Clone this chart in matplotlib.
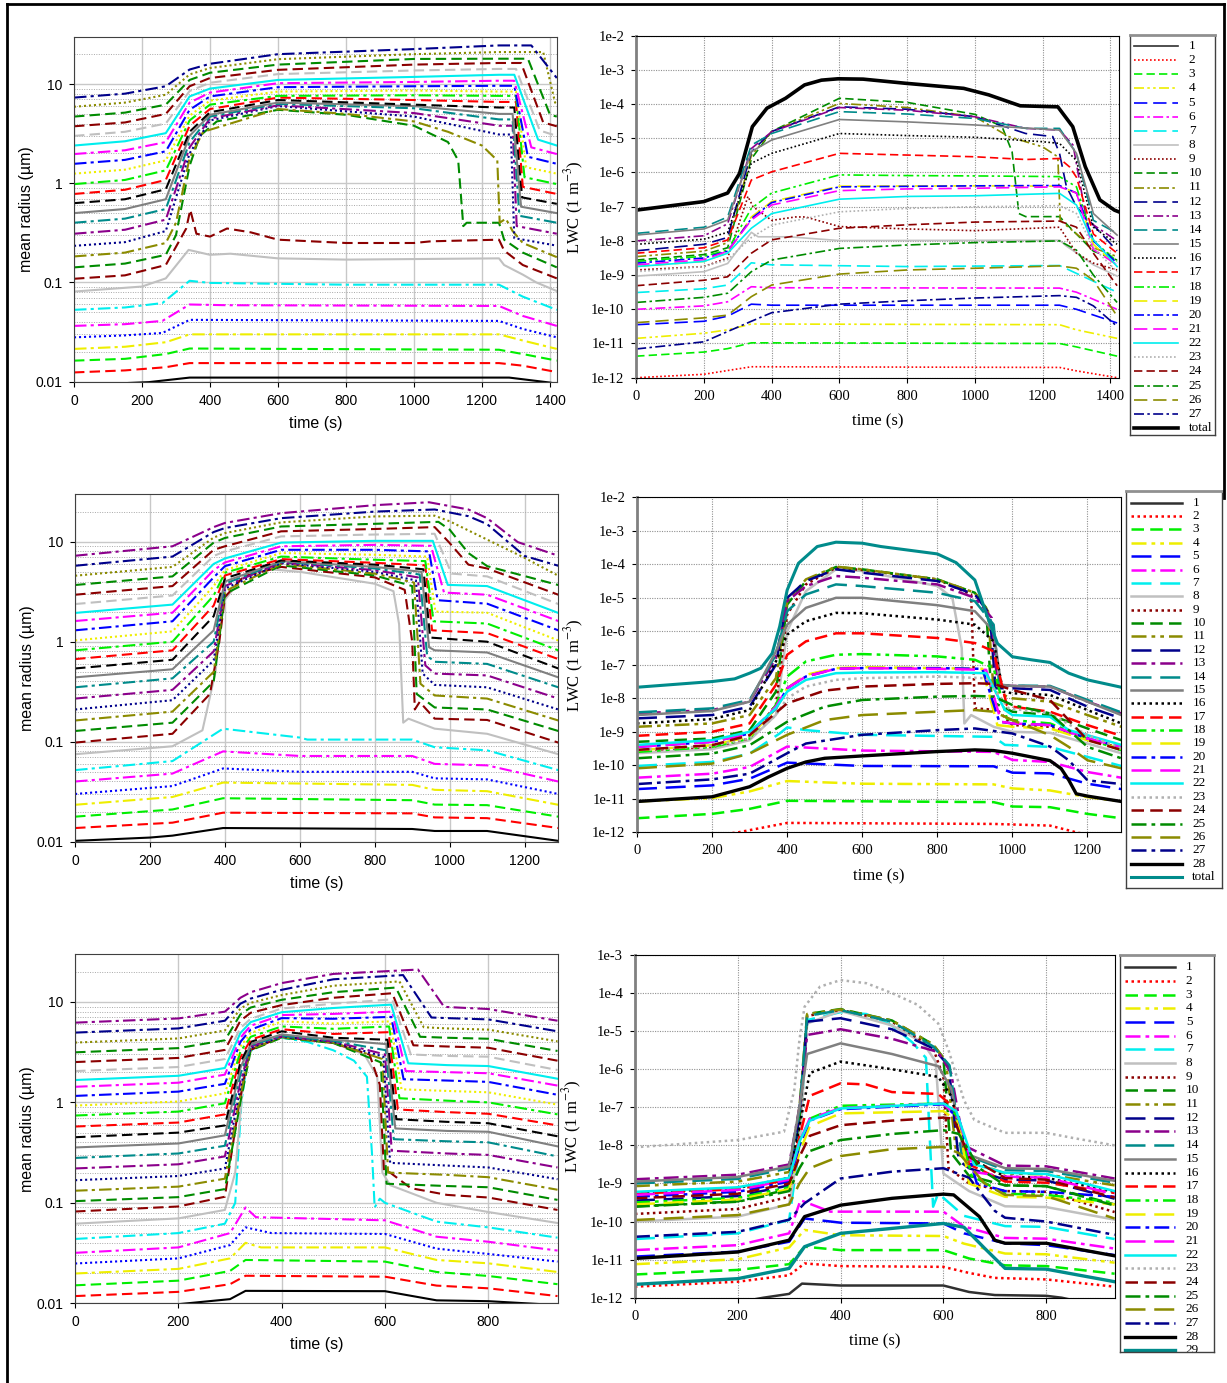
import numpy as np
import matplotlib.pyplot as plt
from matplotlib.lines import Line2D

plt.rcParams['mathtext.fontset'] = 'stix'

SANS = 'Liberation Sans'
SERIF = 'Liberation Serif'
W, H = 1227, 1383

# line patterns
SOLID = '-'
DASH = (0, (5, 2.5))
LONG = (0, (8, 3.5))
DOT = (0, (1, 1.4))
DDOT = (0, (6, 2, 1.5, 2))
D3 = (0, (6, 2, 1.5, 2, 1.5, 2))

# colours per size bin (left: mean radius panels)
rad_colors = ['#000000', '#ff0000', '#00ee00', '#eeee00', '#0000ff', '#ff00ff', '#00eeee', '#c0c0c0',
              '#8b0000', '#008b00', '#8b8b00', '#00008b', '#8b008b', '#008b8b', '#808080', '#000000',
              '#ff0000', '#00ee00', '#eeee00', '#0000ff', '#ff00ff', '#00eeee', '#c0c0c0', '#8b0000',
              '#008b00', '#8b8b00', '#00008b', '#8b008b']
rad_styles = [SOLID, DASH, DASH, DDOT, DOT, DDOT, DDOT, SOLID, DASH, DASH, DDOT, DOT, DDOT, DDOT,
              SOLID, DASH, DASH, DDOT, DOT, DDOT, DDOT, SOLID, DASH, DASH, DASH, DOT, DDOT, DDOT]

# colours per bin (right: LWC panels), 28 = black, 29 = teal
lwc_colors = ['#303030', '#ff0000', '#00ee00', '#eeee00', '#0000ff', '#ff00ff', '#00eeee', '#c0c0c0',
              '#8b0000', '#008b00', '#8b8b00', '#00008b', '#8b008b', '#008b8b', '#808080', '#000000',
              '#ff0000', '#00ee00', '#eeee00', '#0000ff', '#ff00ff', '#00eeee', '#b0b0b0', '#8b0000',
              '#008b00', '#8b8b00', '#00008b', '#000000', '#008b8b']
lwc_styles = [SOLID, DOT, DASH, D3, LONG, DDOT, LONG, SOLID, DOT, DASH, D3, LONG, DDOT, LONG,
              SOLID, DOT, DASH, D3, LONG, DDOT, LONG, SOLID, DOT, DASH, DDOT, LONG, DDOT, SOLID, SOLID]

# ------------------------------------------------------------------
# top row: mean radius (um), bins 1-27, (time s, radius um)
rad1 = [
    [(0, .0092), (220, .0099), (340, .0110), (1280, .0110), (1400, .0098), (1420, .0095)],
    [(0, .0124), (150, .013), (270, .014), (340, .0154), (1250, .0154), (1320, .0145), (1420, .0125)],
    [(0, .0163), (150, .017), (270, .019), (340, .0216), (1250, .021), (1320, .019), (1420, .0163)],
    [(0, .0214), (150, .0225), (270, .025), (340, .030), (1250, .030), (1320, .026), (1420, .0214)],
    [(0, .028), (150, .0293), (260, .031), (340, .042), (1250, .041), (1320, .034), (1420, .028)],
    [(0, .0365), (150, .038), (260, .041), (340, .060), (450, .059), (1250, .058), (1320, .046), (1420, .0365)],
    [(0, .053), (150, .056), (260, .062), (340, .104), (400, .099), (800, .095), (1250, .095), (1320, .072), (1420, .053)],
    [(0, .081), (200, .091), (270, .11), (337, .213), (400, .19), (460, .195), (600, .175), (800, .17),
     (1250, .175), (1265, .15), (1320, .12), (1360, .10), (1420, .082)],
    [(0, .109), (150, .118), (270, .15), (330, .35), (342, .54), (360, .31), (400, .29), (450, .35), (520, .32),
     (600, .27), (800, .25), (1000, .25), (1050, .26), (1250, .27), (1265, .21), (1320, .15), (1420, .11)],
    [(0, .142), (150, .155), (270, .19), (300, .3), (340, 1.5), (370, 3.0), (420, 4.2), (600, 5.5), (800, 4.9),
     (1000, 3.8), (1100, 2.6), (1130, 1.7), (1145, .37), (1155, .4), (1250, .4), (1265, .27), (1320, .2),
     (1420, .142)],
    [(0, .183), (150, .2), (270, .25), (300, .4), (340, 1.8), (380, 3.3), (600, 5.6), (800, 5.0), (1000, 4.2),
     (1100, 3.3), (1200, 2.4), (1245, 1.7), (1252, .4), (1270, .44), (1290, .33), (1320, .25), (1420, .18)],
    [(0, .234), (150, .255), (270, .33), (340, 2.0), (400, 4.3), (600, 6.0), (1000, 4.7), (1250, 3.1), (1285, 3.1), (1295, .28), (1420, .235)],
    [(0, .31), (150, .34), (270, .43), (340, 2.3), (400, 4.5), (600, 6.1), (1000, 5.1), (1250, 3.8), (1290, 3.8), (1302, .37), (1420, .31)],
    [(0, .40), (150, .44), (270, .55), (340, 2.6), (400, 4.7), (600, 6.3), (1000, 5.7), (1250, 4.4), (1290, 4.4), (1310, .47), (1420, .40)],
    [(0, .50), (150, .55), (270, .69), (340, 3.0), (400, 4.9), (600, 6.5), (1000, 6.0), (1250, 5.0), (1290, 5.0), (1315, .58), (1420, .50)],
    [(0, .63), (150, .69), (270, .87), (340, 3.3), (400, 5.2), (600, 6.9), (1000, 6.2), (1250, 5.8), (1295, 5.8), (1318, .72), (1420, .62)],
    [(0, .78), (150, .86), (270, 1.08), (340, 3.8), (400, 5.6), (600, 7.3), (1000, 6.9), (1250, 6.6), (1300, 6.6), (1320, .92), (1420, .78)],
    [(0, .98), (150, 1.08), (270, 1.35), (340, 4.3), (400, 6.2), (600, 7.6), (1000, 7.7), (1250, 7.6), (1300, 7.6), (1325, 1.15), (1420, .98)],
    [(0, 1.25), (150, 1.37), (270, 1.7), (340, 4.8), (400, 6.8), (600, 8.4), (1000, 8.6), (1250, 8.4), (1300, 8.4), (1330, 1.45), (1420, 1.25)],
    [(0, 1.57), (150, 1.72), (270, 2.1), (340, 5.5), (400, 7.5), (600, 9.3), (1000, 9.5), (1250, 9.6), (1295, 9.6), (1335, 1.85), (1420, 1.57)],
    [(0, 1.97), (150, 2.15), (270, 2.6), (340, 6.5), (400, 8.2), (600, 10.2), (1000, 10.5), (1250, 10.8), (1295, 10.8), (1345, 2.3), (1420, 1.97)],
    [(0, 2.4), (150, 2.65), (270, 3.2), (340, 7.5), (400, 9.0), (600, 11.0), (1000, 11.8), (1250, 12.4), (1295, 12.4), (1365, 2.75), (1420, 2.4)],
    [(0, 3.0), (150, 3.3), (270, 4.0), (340, 8.5), (400, 10.3), (600, 12.6), (1000, 13.7), (1250, 14.2), (1300, 14.2), (1370, 3.4), (1420, 3.0)],
    [(0, 3.75), (150, 4.1), (270, 5.0), (340, 9.5), (400, 11.5), (600, 13.9), (1000, 15.7), (1250, 16.3), (1315, 16.3), (1380, 4.1), (1420, 3.75)],
    [(0, 4.7), (150, 5.15), (270, 6.2), (340, 11), (400, 13), (600, 15.7), (1000, 17.9), (1250, 18), (1335, 18), (1400, 4.9), (1420, 4.7)],
    [(0, 5.9), (150, 6.5), (270, 7.8), (340, 12.5), (400, 14.5), (600, 17.8), (1000, 20), (1250, 21), (1380, 21), (1415, 6.5), (1420, 6.3)],
    [(0, 7.3), (150, 8.0), (270, 9.5), (340, 14), (400, 16), (600, 20), (1000, 22.5), (1250, 24.5), (1345, 24.5), (1420, 11.5)],
]

# top row: LWC, log10 values, bins 1-27 + total
lwc1 = [
    [(0, -13.3), (340, -12.9), (1250, -12.9), (1420, -13.3)],
    [(0, -12.0), (200, -11.9), (340, -11.68), (1250, -11.7), (1300, -11.8), (1420, -12.0)],
    [(0, -11.37), (200, -11.25), (270, -11.15), (340, -10.98), (1250, -11.0), (1300, -11.1), (1420, -11.37)],
    [(0, -10.85), (200, -10.7), (270, -10.6), (340, -10.43), (1250, -10.45), (1300, -10.6), (1420, -10.85)],
    [(0, -10.45), (200, -10.35), (270, -10.2), (340, -9.85), (400, -9.88), (1250, -9.88), (1300, -10.0), (1420, -10.4)],
    [(0, -10.0), (200, -9.9), (270, -9.78), (340, -9.34), (400, -9.37), (1250, -9.38), (1300, -9.5), (1420, -10.0)],
    [(0, -9.51), (200, -9.4), (270, -9.29), (340, -8.64), (400, -8.7), (800, -8.75), (1250, -8.72), (1300, -8.95), (1420, -9.5)],
    [(0, -9.03), (200, -8.9), (270, -8.66), (340, -7.75), (360, -7.88), (450, -7.88), (600, -7.99), (1250, -7.98),
     (1270, -8.15), (1300, -8.35), (1350, -8.7), (1420, -9.03)],
    [(0, -8.85), (200, -8.75), (270, -8.5), (330, -6.7), (345, -7.0), (400, -7.4), (470, -7.3), (500, -7.3),
     (600, -7.58), (800, -7.65), (1000, -7.7), (1250, -7.6), (1300, -8.36), (1350, -8.65), (1420, -8.85)],
    [(0, -8.56), (200, -8.4), (270, -8.2), (340, -5.6), (400, -4.8), (600, -3.83), (800, -3.95), (1000, -4.3),
     (1080, -4.65), (1110, -5.4), (1130, -7.2), (1150, -7.29), (1250, -7.29), (1270, -7.5), (1350, -8.3), (1420, -8.56)],
    [(0, -8.46), (200, -8.3), (270, -8.05), (340, -5.5), (400, -4.8), (600, -3.98), (800, -4.1), (1000, -4.37),
     (1100, -4.95), (1200, -5.25), (1245, -5.54), (1252, -7.39), (1270, -7.55), (1350, -8.2), (1420, -8.46)],
    [(0, -8.29), (200, -8.1), (270, -7.9), (340, -5.4), (400, -4.8), (600, -4.08), (800, -4.15), (1000, -4.37),
     (1150, -4.86), (1230, -4.95), (1250, -5.44), (1270, -6.4), (1300, -7.0), (1420, -8.29)],
    [(0, -8.0), (200, -7.85), (270, -7.5), (340, -5.3), (400, -4.81), (600, -4.1), (800, -4.18), (1000, -4.37),
     (1150, -4.71), (1250, -4.76), (1290, -5.2), (1330, -7.4), (1420, -8.0)],
    [(0, -7.78), (200, -7.6), (270, -7.3), (340, -5.2), (400, -4.86), (600, -4.22), (800, -4.29), (1000, -4.42),
     (1150, -4.71), (1250, -4.71), (1300, -5.44), (1350, -7.4), (1420, -7.78)],
    [(0, -7.83), (200, -7.65), (270, -7.39), (340, -5.39), (400, -5.05), (600, -4.45), (800, -4.52), (1000, -4.61),
     (1250, -4.76), (1300, -5.44), (1350, -7.2), (1420, -7.83)],
    [(0, -8.1), (200, -7.95), (270, -7.75), (340, -5.73), (400, -5.44), (600, -4.86), (800, -4.92), (1000, -4.97),
     (1200, -5.1), (1250, -5.15), (1300, -5.65), (1350, -7.6), (1420, -8.1)],
    [(0, -8.36), (200, -8.2), (270, -7.97), (340, -6.22), (400, -5.98), (600, -5.44), (800, -5.49), (1000, -5.54),
     (1150, -5.62), (1250, -5.59), (1280, -5.84), (1300, -6.14), (1350, -7.8), (1420, -8.36)],
    [(0, -8.6), (200, -8.45), (270, -8.27), (340, -7.05), (400, -6.6), (600, -6.07), (800, -6.09), (1000, -6.1),
     (1250, -6.12), (1300, -6.42), (1350, -8.0), (1420, -8.6)],
    [(0, -8.75), (200, -8.6), (270, -8.35), (340, -7.3), (400, -6.85), (600, -6.4), (1000, -6.39), (1250, -6.4),
     (1300, -6.6), (1350, -8.1), (1420, -8.75)],
    [(0, -8.65), (200, -8.5), (270, -8.3), (340, -7.35), (400, -6.88), (600, -6.42), (1000, -6.39), (1250, -6.38),
     (1300, -6.6), (1350, -8.0), (1420, -8.65)],
    [(0, -8.7), (200, -8.55), (270, -8.3), (340, -7.39), (400, -6.95), (600, -6.53), (800, -6.48), (1000, -6.46),
     (1250, -6.42), (1300, -6.6), (1350, -8.25), (1420, -8.7)],
    [(0, -8.75), (200, -8.6), (270, -8.36), (340, -7.63), (400, -7.2), (600, -6.78), (800, -6.7), (1000, -6.68),
     (1250, -6.61), (1300, -6.95), (1340, -7.85), (1420, -8.75)],
    [(0, -8.9), (200, -8.75), (270, -8.55), (340, -7.9), (400, -7.54), (600, -7.15), (800, -7.05), (1000, -7.0),
     (1250, -6.97), (1300, -7.2), (1350, -8.2), (1420, -8.9)],
    [(0, -9.31), (200, -9.15), (270, -9.05), (340, -8.36), (400, -7.97), (600, -7.63), (800, -7.53), (1000, -7.45),
     (1250, -7.42), (1300, -7.6), (1350, -8.36), (1420, -9.31)],
    [(0, -9.8), (200, -9.65), (270, -9.53), (340, -8.9), (400, -8.56), (600, -8.22), (800, -8.12), (1000, -8.05),
     (1250, -8.0), (1300, -8.27), (1350, -9.0), (1420, -9.8)],
    [(0, -10.39), (200, -10.25), (270, -10.17), (340, -9.63), (400, -9.29), (600, -8.97), (800, -8.85), (1000, -8.8),
     (1250, -8.73), (1300, -8.8), (1350, -9.15), (1420, -10.2)],
    [(0, -11.16), (200, -10.95), (270, -10.65), (340, -10.35), (400, -10.1), (600, -9.85), (800, -9.75), (1000, -9.67),
     (1250, -9.6), (1300, -9.65), (1350, -9.9), (1420, -10.5)],
]
lwc1_total = [(0, -7.1), (200, -6.85), (270, -6.6), (305, -6.03), (343, -4.66), (386, -4.12), (441, -3.83),
              (497, -3.44), (547, -3.3), (596, -3.26), (670, -3.27), (794, -3.39), (967, -3.54), (1041, -3.73),
              (1134, -4.05), (1245, -4.08), (1289, -4.66), (1326, -5.83), (1369, -6.8), (1412, -7.1), (1425, -7.15)]

# ------------------------------------------------------------------
# middle row: mean radius, bins 1-28
rad2 = [
    [(0, .0102), (200, .011), (260, .0115), (395, .0137), (900, .0134), (960, .0128), (1100, .0128), (1290, .0102)],
    [(0, .0137), (260, .0155), (395, .0195), (900, .0192), (960, .0175), (1100, .0172), (1290, .0137)],
    [(0, .0178), (260, .021), (395, .0272), (900, .026), (960, .0235), (1100, .0232), (1290, .0178)],
    [(0, .0234), (260, .028), (395, .039), (900, .037), (960, .033), (1100, .032), (1290, .0234)],
    [(0, .030), (260, .036), (395, .054), (600, .050), (900, .050), (960, .043), (1100, .042), (1290, .030)],
    [(0, .040), (260, .048), (395, .080), (600, .072), (900, .072), (960, .060), (1100, .058), (1290, .040)],
    [(0, .052), (260, .064), (395, .135), (600, .11), (620, .105), (900, .105), (960, .088), (1100, .082), (1290, .052)],
    [(0, .075), (260, .09), (340, .13), (375, .5), (395, 2.5), (450, 4.5), (520, 5.3), (600, 5.0), (800, 3.8),
     (850, 3.2), (865, 1.5), (876, .155), (890, .17), (960, .135), (1100, .12), (1290, .075)],
    [(0, .098), (260, .12), (360, .3), (385, 1.0), (400, 2.8), (450, 4.5), (550, 5.6), (800, 4.4), (880, 3.3),
     (900, 1.0), (907, .21), (920, .25), (960, .17), (1100, .165), (1290, .098)],
    [(0, .128), (260, .155), (370, .4), (400, 3.0), (550, 5.8), (800, 4.6), (900, 3.6), (912, .3), (960, .22), (1100, .21), (1290, .128)],
    [(0, .163), (260, .2), (370, .5), (400, 3.2), (550, 6.0), (800, 4.8), (905, 3.9), (922, .38), (960, .29), (1100, .27), (1290, .163)],
    [(0, .21), (260, .26), (370, .65), (400, 3.4), (550, 6.1), (800, 5.0), (910, 4.1), (928, .48), (960, .37), (1100, .35), (1290, .21)],
    [(0, .27), (260, .33), (370, .8), (400, 3.6), (550, 6.2), (800, 5.2), (915, 4.4), (935, .58), (960, .48), (1100, .46), (1290, .27)],
    [(0, .35), (260, .43), (370, 1.0), (400, 3.8), (550, 6.3), (800, 5.4), (920, 4.7), (940, .72), (960, .63), (1100, .6), (1290, .35)],
    [(0, .44), (260, .53), (370, 1.3), (400, 4.0), (550, 6.4), (800, 5.6), (925, 5.0), (945, .88), (960, .82), (1100, .78), (1290, .44)],
    [(0, .54), (260, .66), (370, 1.8), (400, 4.3), (550, 6.5), (800, 5.9), (930, 5.3), (948, 1.1), (1100, 1.0), (1290, .54)],
    [(0, .67), (260, .82), (370, 2.3), (400, 4.6), (550, 6.7), (800, 6.15), (935, 5.8), (953, 1.3), (1100, 1.22), (1290, .67)],
    [(0, .82), (260, 1.0), (370, 2.9), (400, 4.9), (550, 7.1), (800, 6.6), (935, 6.4), (957, 1.6), (1100, 1.52), (1290, .82)],
    [(0, 1.03), (260, 1.27), (370, 3.6), (400, 5.2), (550, 7.7), (800, 7.4), (940, 7.1), (962, 2.0), (1100, 1.95), (1290, 1.03)],
    [(0, 1.30), (260, 1.6), (370, 4.4), (400, 5.7), (550, 8.3), (800, 8.3), (945, 8.0), (968, 2.6), (1100, 2.4), (1290, 1.30)],
    [(0, 1.61), (260, 1.95), (370, 5.2), (400, 6.2), (550, 9.0), (800, 9.3), (950, 9.1), (985, 3.1), (1100, 2.95), (1290, 1.61)],
    [(0, 1.94), (260, 2.35), (370, 6.0), (400, 6.8), (550, 9.8), (800, 10.2), (955, 10.2), (995, 3.7), (1100, 3.6), (1290, 1.94)],
    [(0, 2.38), (260, 2.9), (370, 7.2), (400, 8.0), (550, 11.3), (800, 11.8), (960, 12), (1005, 4.8), (1100, 4.5), (1290, 2.38)],
    [(0, 2.95), (260, 3.6), (370, 8.3), (400, 9.0), (550, 12.7), (800, 13.4), (960, 14), (1000, 9.7), (1050, 5.9), (1100, 5.4), (1290, 2.95)],
    [(0, 3.69), (260, 4.5), (370, 9.8), (400, 10.9), (550, 14.2), (800, 15.1), (970, 15.8), (1000, 13.2), (1050, 7.7), (1100, 5.7), (1290, 3.69)],
    [(0, 4.57), (260, 5.6), (370, 11), (400, 12.2), (550, 15.6), (800, 17.9), (960, 18.2), (1000, 16), (1100, 10.5), (1200, 6.9), (1290, 4.57)],
    [(0, 5.75), (260, 7.1), (370, 12.5), (400, 13.7), (550, 17.2), (800, 20), (960, 21), (1050, 18), (1100, 15), (1200, 7.2), (1290, 5.75)],
    [(0, 7.24), (260, 9.0), (370, 14), (400, 15.4), (550, 19.3), (800, 23.2), (945, 24.8), (1050, 21), (1100, 17.2), (1182, 9.9), (1290, 7.24)],
]

# middle row: LWC (log10), bins 1-28 + total
lwc2 = [
    [(0, -13.5), (400, -13.0), (1290, -13.5)],
    [(0, -12.4), (270, -12.0), (400, -11.72), (950, -11.75), (1100, -11.8), (1170, -12.0), (1290, -12.3)],
    [(0, -11.58), (200, -11.45), (300, -11.3), (400, -11.06), (950, -11.1), (1000, -11.23), (1100, -11.25), (1200, -11.45), (1290, -11.58)],
    [(0, -11.08), (200, -10.98), (300, -10.78), (400, -10.47), (600, -10.55), (950, -10.57), (1000, -10.69), (1100, -10.75), (1200, -10.95), (1290, -11.08)],
    [(0, -10.71), (200, -10.6), (300, -10.4), (400, -9.92), (600, -10.02), (950, -10.03), (1000, -10.22), (1100, -10.24), (1200, -10.55), (1290, -10.71)],
    [(0, -10.37), (200, -10.25), (300, -10.05), (400, -9.44), (600, -9.56), (950, -9.6), (1000, -9.84), (1100, -9.9), (1200, -10.2), (1290, -10.37)],
    [(0, -10.02), (200, -9.9), (300, -9.65), (380, -9.05), (400, -8.87), (450, -8.95), (600, -9.09), (950, -9.15), (980, -9.39), (1100, -9.45), (1200, -9.75), (1290, -10.02)],
    [(0, -9.64), (200, -9.52), (300, -9.25), (370, -8.5), (400, -6.0), (450, -4.8), (530, -4.15), (600, -4.2), (800, -4.65),
     (840, -5.0), (865, -6.5), (872, -8.75), (890, -8.5), (950, -8.85), (1000, -9.0), (1100, -9.03), (1200, -9.35), (1290, -9.64)],
    [(0, -9.56), (200, -9.45), (300, -9.2), (370, -8.2), (400, -5.5), (450, -4.6), (530, -4.1), (600, -4.17), (800, -4.45),
     (890, -4.9), (900, -8.3), (960, -8.35), (1000, -8.8), (1100, -8.85), (1200, -9.2), (1290, -9.5)],
    [(0, -9.3), (200, -9.2), (300, -8.95), (370, -7.8), (400, -5.2), (450, -4.5), (530, -4.08), (600, -4.15), (800, -4.45),
     (900, -4.85), (930, -5.3), (945, -8.1), (1000, -8.4), (1100, -8.5), (1200, -8.9), (1290, -9.25)],
    [(0, -8.85), (200, -8.75), (300, -8.5), (370, -7.4), (400, -5.1), (450, -4.45), (530, -4.07), (600, -4.15), (800, -4.45),
     (900, -4.85), (935, -5.4), (950, -7.8), (1000, -8.0), (1100, -8.1), (1200, -8.5), (1290, -8.85)],
    [(0, -8.6), (200, -8.5), (300, -8.25), (370, -7.0), (400, -5.0), (450, -4.5), (530, -4.15), (600, -4.25), (800, -4.5),
     (900, -4.9), (940, -5.5), (955, -7.7), (1000, -7.7), (1100, -7.75), (1200, -8.25), (1290, -8.6)],
    [(0, -8.45), (200, -8.35), (300, -8.1), (370, -6.8), (400, -5.1), (450, -4.65), (530, -4.35), (600, -4.4), (800, -4.6),
     (900, -5.0), (945, -5.6), (960, -7.6), (1000, -7.63), (1100, -7.65), (1200, -8.1), (1290, -8.45)],
    [(0, -8.42), (200, -8.3), (300, -8.05), (370, -6.7), (400, -5.4), (450, -4.9), (530, -4.6), (600, -4.65), (800, -4.85),
     (900, -5.1), (950, -5.8), (965, -7.6), (1000, -7.62), (1100, -7.63), (1200, -8.05), (1290, -8.42)],
    [(0, -8.5), (200, -8.38), (300, -8.1), (370, -6.6), (400, -5.8), (450, -5.3), (530, -5.0), (600, -5.0), (800, -5.22),
     (900, -5.4), (950, -6.0), (970, -7.6), (1000, -7.63), (1100, -7.65), (1200, -8.1), (1290, -8.5)],
    [(0, -8.75), (200, -8.62), (300, -8.35), (370, -6.9), (400, -6.1), (450, -5.7), (530, -5.45), (600, -5.46), (800, -5.65),
     (900, -5.8), (950, -6.3), (975, -7.8), (1000, -7.85), (1100, -7.9), (1200, -8.35), (1290, -8.75)],
    [(0, -9.12), (200, -9.0), (300, -8.75), (370, -7.6), (400, -6.7), (450, -6.3), (530, -6.06), (600, -6.06), (800, -6.2),
     (900, -6.35), (950, -6.6), (985, -8.2), (1000, -8.25), (1100, -8.4), (1200, -8.8), (1290, -9.12)],
    [(0, -9.6), (200, -9.45), (300, -9.2), (370, -8.2), (400, -7.35), (450, -6.9), (530, -6.7), (600, -6.68), (800, -6.75),
     (900, -6.85), (950, -7.1), (985, -8.6), (1000, -8.65), (1100, -8.75), (1200, -9.2), (1290, -9.55)],
    [(0, -9.55), (200, -9.4), (300, -9.15), (370, -8.3), (400, -7.7), (450, -7.3), (530, -7.1), (600, -7.07), (800, -7.1),
     (920, -7.12), (960, -8.8), (1000, -8.85), (1100, -8.9), (1200, -9.25), (1290, -9.5)],
    [(0, -9.45), (200, -9.3), (300, -9.05), (370, -8.3), (400, -7.7), (450, -7.35), (530, -7.12), (600, -7.1), (800, -7.1),
     (920, -7.12), (965, -8.7), (1000, -8.75), (1100, -8.8), (1200, -9.2), (1290, -9.45)],
    [(0, -9.45), (200, -9.3), (300, -9.05), (370, -8.25), (400, -7.7), (450, -7.35), (530, -7.12), (600, -7.1), (800, -7.12),
     (930, -7.15), (970, -8.7), (1000, -8.75), (1100, -8.8), (1200, -9.2), (1290, -9.45)],
    [(0, -9.39), (200, -9.25), (300, -9.0), (370, -8.3), (400, -7.8), (450, -7.45), (530, -7.25), (600, -7.23), (800, -7.22),
     (930, -7.25), (980, -8.35), (1000, -8.5), (1100, -8.55), (1150, -8.95), (1200, -9.1), (1290, -9.39)],
    [(0, -9.55), (200, -9.42), (300, -9.2), (370, -8.5), (400, -8.0), (450, -7.65), (530, -7.45), (600, -7.4), (800, -7.35),
     (930, -7.4), (990, -8.3), (1100, -8.45), (1200, -9.1), (1290, -9.5)],
    [(0, -9.54), (200, -9.4), (300, -9.1), (400, -8.15), (500, -7.77), (600, -7.65), (800, -7.57), (900, -7.55), (950, -7.57),
     (1000, -7.75), (1100, -8.05), (1150, -8.65), (1200, -9.25), (1290, -9.54)],
    [(0, -9.79), (200, -9.65), (300, -9.4), (400, -8.7), (500, -8.25), (600, -8.05), (800, -7.95), (900, -7.93), (950, -7.95),
     (1000, -8.2), (1100, -8.45), (1150, -8.95), (1200, -9.45), (1290, -9.79)],
    [(0, -10.09), (200, -9.95), (300, -9.65), (400, -9.09), (500, -8.65), (600, -8.5), (800, -8.4), (900, -8.35), (950, -8.4),
     (1000, -8.65), (1100, -9.1), (1150, -9.45), (1200, -9.85), (1290, -10.09)],
    [(0, -10.56), (200, -10.42), (300, -10.25), (400, -9.64), (450, -9.35), (600, -9.09), (800, -8.95), (900, -8.9),
     (1000, -9.05), (1100, -9.44), (1150, -9.85), (1200, -10.45), (1290, -10.56)],
    [(0, -11.08), (200, -10.94), (300, -10.64), (350, -10.35), (400, -10.09), (450, -9.9), (500, -9.79), (600, -9.72),
     (800, -9.59), (900, -9.54), (950, -9.56), (1000, -9.64), (1100, -9.86), (1130, -10.1), (1150, -10.44), (1170, -10.85),
     (1200, -10.92), (1290, -11.08)],
]
lwc2_total = [(0, -7.67), (200, -7.5), (260, -7.42), (300, -7.25), (330, -7.1), (360, -6.66), (380, -5.86), (400, -4.77),
              (430, -3.97), (480, -3.47), (530, -3.34), (600, -3.37), (650, -3.47), (800, -3.69), (850, -3.95), (900, -4.47),
              (930, -5.46), (960, -6.36), (1000, -6.76), (1050, -6.85), (1100, -6.93), (1150, -7.25), (1200, -7.45), (1290, -7.67)]

# ------------------------------------------------------------------
# bottom row: mean radius, bins 1-9 as (time, radius)
rad3_small = [
    [(0, .009), (200, .0098), (300, .011), (330, .0133), (600, .0132), (700, .0107), (800, .0105), (934, .0096)],
    [(0, .0118), (200, .013), (300, .0155), (330, .0188), (600, .0184), (700, .015), (800, .0141), (934, .0118)],
    [(0, .0151), (200, .0168), (300, .021), (330, .027), (600, .026), (700, .0205), (800, .0187), (934, .0155)],
    [(0, .0198), (200, .022), (300, .028), (330, .040), (360, .036), (600, .036), (700, .027), (800, .025), (934, .0205)],
    [(0, .0249), (200, .028), (300, .038), (330, .057), (380, .05), (600, .049), (700, .035), (800, .031), (934, .026)],
    [(0, .0318), (200, .036), (300, .05), (330, .09), (350, .072), (600, .067), (700, .046), (800, .041), (934, .0335)],
    [(0, .0437), (200, .05), (290, .062), (310, .1), (322, 1.0), (335, 3.0), (360, 4.2), (400, 4.4), (450, 4.0), (500, 3.3),
     (540, 2.6), (565, 1.8), (575, .3), (580, .09), (590, .11), (600, .1), (700, .065), (800, .057), (934, .045)],
    [(0, .062), (200, .07), (290, .085), (310, .2), (330, 3.0), (360, 4.3), (400, 4.5), (500, 3.9), (560, 3.0), (585, 1.8),
     (595, .2), (610, .15), (700, .1), (800, .081), (934, .063)],
    [(0, .082), (200, .092), (290, .115), (318, 1.0), (338, 3.3), (400, 4.5), (500, 3.9), (570, 3.0), (590, 1.5), (598, .21),
     (610, .2), (650, .14), (720, .12), (800, .113), (934, .085)],
]
# bins 10-28: radius at fixed times, plus each bin's own fall-off (start, end)
rad3_times = [0, 200, 290, 320, 340, 400, 500]
rad3_rise = [
    [.104, .114, .137, 1.0, 3.3, 4.4, 3.9],
    [.132, .145, .174, 1.2, 3.4, 4.45, 3.95],
    [.168, .185, .22, 1.4, 3.5, 4.5, 4.0],
    [.22, .242, .29, 1.6, 3.6, 4.55, 4.05],
    [.28, .31, .37, 1.9, 3.7, 4.6, 4.1],
    [.356, .39, .47, 2.2, 3.8, 4.75, 4.2],
    [.45, .50, .59, 2.5, 4.0, 5.1, 4.4],
    [.575, .63, .76, 2.8, 4.2, 5.35, 4.8],
    [.74, .81, .98, 3.2, 4.5, 5.7, 5.4],
    [.93, 1.02, 1.23, 3.6, 4.9, 6.4, 6.1],
    [1.16, 1.28, 1.53, 4.0, 5.3, 6.9, 6.8],
    [1.43, 1.57, 1.89, 4.4, 5.8, 7.4, 7.6],
    [1.67, 1.84, 2.2, 4.9, 6.3, 7.9, 8.7],
    [2.05, 2.25, 2.7, 5.5, 6.8, 8.6, 9.6],
    [2.52, 2.77, 3.33, 6.5, 7.8, 9.3, 11],
    [3.15, 3.47, 4.15, 7.5, 8.8, 10.5, 12.5],
    [3.94, 4.33, 5.2, 8.6, 9.8, 11.7, 14.5],
    [4.95, 5.45, 6.5, 9.6, 10.8, 13.2, 16.8],
    [6.22, 6.85, 8.0, 11, 12.5, 15.4, 19],
]
rad3_fall_start = [592, 595, 597, 600, 602, 603, 605, 607, 608, 610, 612, 614, 612, 614, 614, 621, 628, 635, 664]
rad3_peak = [2.5, 2.7, 2.85, 3.0, 3.3, 3.8, 4.2, 5.0, 5.7, 6.4, 7.1, 8.0, 9.4, 10.6, 12.2, 13.9, 16, 18.5, 21]
rad3_fall_end = [603, 606, 610, 613, 617, 620, 622, 625, 628, 632, 636, 640, 645, 650, 655, 668, 675, 690, 714]
rad3_after = [.155, .2, .25, .33, .43, .55, .68, .85, 1.1, 1.35, 1.7, 2.05, 2.45, 3.0, 3.7, 4.5, 5.6, 7.0, 9.0]
rad3_t720 = [.147, .19, .235, .31, .41, .52, .64, .8, 1.04, 1.3, 1.65, 2.0, 2.35, 2.9, 3.6, 4.4, 5.45, 6.9, 8.9]
rad3_t800 = [.143, .18, .225, .30, .40, .51, .62, .77, 1.0, 1.26, 1.6, 1.95, 2.3, 2.85, 3.5, 4.3, 5.3, 6.7, 8.5]
rad3_end = [.107, .135, .172, .225, .29, .365, .46, .59, .76, .95, 1.19, 1.47, 1.72, 2.1, 2.6, 3.25, 4.05, 5.1, 6.5]

# bottom row: LWC (log10), bins 1-29
lwc3 = [
    [(0, -12.6), (250, -12.0), (300, -11.9), (325, -11.63), (400, -11.68), (600, -11.68), (650, -11.85), (700, -11.93),
     (800, -11.95), (830, -12.0), (933, -12.3)],
    [(0, -11.71), (200, -11.58), (300, -11.41), (330, -11.1), (400, -11.17), (600, -11.19), (650, -11.35), (700, -11.48), (800, -11.52), (933, -11.71)],
    [(0, -11.39), (200, -11.27), (300, -11.12), (330, -10.66), (400, -10.75), (600, -10.75), (650, -10.97), (720, -11.15), (800, -11.17), (933, -11.37)],
    [(0, -11.12), (200, -10.99), (300, -10.68), (330, -10.22), (400, -10.36), (600, -10.38), (640, -10.58), (720, -10.84), (800, -10.86), (933, -11.08)],
    [(0, -10.92), (200, -10.79), (300, -10.53), (330, -9.92), (400, -10.03), (600, -10.05), (640, -10.31), (720, -10.57), (800, -10.62), (933, -10.88)],
    [(0, -10.75), (200, -10.62), (300, -10.31), (322, -9.44), (380, -9.74), (600, -9.74), (640, -10.13), (720, -10.43), (800, -10.45), (933, -10.71)],
    [(0, -10.46), (200, -10.31), (300, -9.96), (320, -8.0), (335, -4.71), (400, -4.5), (450, -4.55), (500, -4.85), (540, -5.3),
     (566, -5.7), (580, -9.61), (590, -9.26), (640, -9.85), (720, -10.12), (800, -10.14), (933, -10.46)],
    [(0, -10.0), (200, -9.87), (300, -9.55), (320, -8.0), (335, -4.8), (400, -4.47), (500, -4.85), (560, -5.3), (585, -5.8),
     (600, -8.74), (650, -9.2), (720, -9.6), (800, -9.62), (933, -9.95)],
    [(0, -9.8), (200, -9.67), (300, -9.35), (320, -7.5), (335, -4.6), (400, -4.44), (500, -4.75), (580, -5.45), (600, -6.2),
     (610, -8.6), (650, -9.0), (720, -9.2), (800, -9.22), (933, -9.75)],
    [(0, -9.6), (200, -9.47), (300, -9.15), (320, -7.3), (335, -4.55), (400, -4.42), (500, -4.72), (580, -5.35), (600, -5.7),
     (615, -8.2), (650, -8.8), (720, -9.05), (800, -9.07), (933, -9.55)],
    [(0, -9.07), (200, -8.95), (300, -8.7), (320, -7.0), (335, -4.55), (400, -4.43), (500, -4.72), (580, -5.35), (605, -5.8),
     (625, -8.2), (650, -8.4), (720, -8.74), (800, -8.76), (933, -9.05)],
    [(0, -9.45), (200, -9.33), (300, -9.05), (320, -7.2), (335, -4.75), (400, -4.66), (500, -4.95), (580, -5.45), (610, -5.9),
     (630, -8.4), (650, -8.6), (720, -8.9), (800, -8.92), (933, -9.4)],
    [(0, -8.89), (200, -8.77), (300, -8.5), (320, -7.0), (335, -5.1), (400, -4.95), (500, -5.2), (590, -5.55), (615, -6.1),
     (640, -8.0), (720, -8.53), (800, -8.55), (933, -8.87)],
    [(0, -9.0), (200, -8.88), (300, -8.6), (320, -7.1), (335, -4.6), (400, -4.45), (500, -4.75), (580, -5.4), (612, -5.9),
     (635, -8.2), (720, -8.65), (800, -8.67), (933, -8.98)],
    [(0, -8.95), (200, -8.83), (300, -8.55), (320, -7.0), (335, -5.6), (400, -5.32), (500, -5.6), (590, -5.92), (615, -6.5),
     (640, -8.2), (720, -8.6), (800, -8.62), (933, -8.93)],
    [(0, -9.25), (200, -9.12), (300, -8.85), (320, -7.5), (340, -6.1), (400, -5.8), (500, -6.0), (590, -6.2), (615, -6.7),
     (645, -8.3), (720, -8.82), (800, -8.85), (933, -9.22)],
    [(0, -9.27), (200, -9.15), (300, -8.9), (320, -7.8), (340, -6.7), (400, -6.37), (450, -6.4), (500, -6.6), (590, -6.65),
     (620, -7.0), (650, -8.5), (720, -8.95), (800, -8.98), (933, -9.25)],
    [(0, -9.5), (200, -9.38), (300, -9.1), (320, -8.0), (340, -7.3), (400, -6.96), (600, -6.9), (625, -7.2), (655, -8.8),
     (720, -9.27), (800, -9.3), (933, -9.5)],
    [(0, -9.55), (200, -9.42), (300, -9.15), (320, -8.2), (340, -7.5), (400, -7.16), (600, -7.1), (630, -7.4), (650, -9.0),
     (720, -9.35), (800, -9.37), (933, -9.55)],
    [(0, -9.35), (200, -9.22), (300, -8.95), (320, -8.0), (340, -7.35), (400, -7.05), (600, -6.92), (630, -7.3), (665, -9.0),
     (720, -9.2), (800, -9.22), (933, -9.35)],
    [(0, -9.3), (200, -9.17), (300, -8.9), (320, -7.9), (340, -7.3), (400, -7.02), (600, -6.9), (630, -7.3), (660, -8.7),
     (720, -8.82), (800, -8.85), (933, -9.28)],
    [(0, -9.22), (200, -9.1), (300, -8.85), (320, -7.9), (340, -7.35), (400, -7.03), (600, -6.9), (625, -7.1), (660, -8.5),
     (720, -8.72), (800, -8.75), (933, -9.2)],
    [(0, -8.05), (200, -7.86), (290, -7.64), (310, -6.55), (320, -5.23), (330, -4.36), (360, -3.83), (400, -3.66), (450, -3.74),
     (500, -4.0), (550, -4.31), (590, -4.8), (610, -5.5), (640, -6.81), (660, -7.33), (720, -7.67), (800, -7.67), (850, -7.8), (933, -8.0)],
    [(0, -9.39), (200, -9.27), (300, -9.0), (320, -8.3), (340, -7.75), (400, -7.47), (500, -7.35), (600, -7.27), (620, -7.3),
     (650, -8.3), (720, -8.86), (800, -8.9), (933, -9.37)],
    [(0, -9.61), (200, -9.48), (300, -9.2), (320, -8.6), (340, -8.15), (400, -7.86), (500, -7.7), (600, -7.6), (630, -7.7),
     (670, -8.6), (720, -9.05), (800, -9.07), (933, -9.58)],
    [(0, -9.96), (200, -9.83), (300, -9.55), (320, -9.0), (340, -8.6), (400, -8.28), (500, -8.1), (600, -8.04), (630, -8.2),
     (680, -9.0), (720, -9.3), (800, -9.33), (933, -9.92)],
    [(0, -10.4), (200, -10.27), (300, -9.95), (330, -9.52), (400, -8.87), (500, -8.69), (600, -8.6), (650, -8.85), (700, -9.72),
     (720, -9.9), (800, -10.0), (933, -10.35)],
    [(0, -10.97), (200, -10.8), (300, -10.49), (330, -9.87), (400, -9.57), (500, -9.39), (600, -9.28), (620, -9.3), (670, -9.87),
     (700, -10.49), (720, -10.57), (800, -10.57), (933, -10.9)],
    [(0, -11.65), (200, -11.5), (300, -11.23), (330, -10.66), (400, -10.31), (500, -10.18), (600, -10.05), (640, -10.15),
     (680, -10.7), (720, -11.23), (800, -11.25), (933, -11.58)],
]

# ------------------------------------------------------------------
fig = plt.figure(figsize=(W / 100, H / 100), dpi=100)


def frac(x0, y0, x1, y1):
    # pixel box -> figure fraction rect
    return [x0 / W, 1 - y1 / H, (x1 - x0) / W, (y1 - y0) / H]


def radius_panel(rect, lines, tmax, xticks):
    ax = fig.add_axes(rect)
    for i, pts in enumerate(lines):
        t, r = zip(*pts)
        ax.plot(t, r, color=rad_colors[i], ls=rad_styles[i], lw=1.5)
    ax.set_yscale('log')
    ax.set_ylim(0.01, 30)
    ax.set_xlim(0, tmax)
    ax.set_yticks([0.01, 0.1, 1, 10])
    ax.set_yticklabels(['0.01', '0.1', '1', '10'])
    ax.set_xticks(xticks)
    ax.grid(True, which='major', color='#c8c8c8', lw=1.0, ls='-')
    ax.grid(True, which='minor', axis='y', color='#a8a8a8', lw=0.7, ls=(0, (1, 1.5)))
    ax.set_axisbelow(True)
    ax.tick_params(which='major', direction='out', length=3.5, width=0.8, pad=5, labelsize=10)
    ax.tick_params(which='minor', length=0)
    for lab in ax.get_xticklabels() + ax.get_yticklabels():
        lab.set_fontfamily(SANS)
    for s in ax.spines.values():
        s.set_color('#404040')
    ax.set_xlabel('time (s)', fontsize=11.5, family=SANS, labelpad=6)
    ax.set_ylabel('mean radius (µm)', fontsize=11.5, family=SANS, labelpad=1)
    return ax


def lwc_panel(rect, lines, widths, tmax, xticks, ytop):
    ax = fig.add_axes(rect)
    for i, pts in enumerate(lines):
        t, v = zip(*pts)
        ax.plot(t, 10 ** np.array(v), color=lwc_colors[i], ls=lwc_styles[i], lw=widths[i])
    ax.set_yscale('log')
    ax.set_ylim(1e-12, 10.0 ** ytop)
    ax.set_xlim(0, tmax)
    exps = list(range(-12, ytop + 1))
    ax.set_yticks([10.0 ** e for e in exps])
    ax.set_yticklabels(['1e%d' % e for e in exps])
    ax.minorticks_off()
    ax.set_xticks(xticks)
    ax.grid(True, color='#909090', lw=0.8, ls=(0, (1, 1.2)))
    ax.set_axisbelow(True)
    ax.tick_params(direction='out', length=3.5, width=0.8, pad=5, labelsize=10.5)
    for lab in ax.get_xticklabels() + ax.get_yticklabels():
        lab.set_fontfamily(SERIF)
    ax.spines['left'].set_color('#808080')
    ax.spines['left'].set_linewidth(2)
    ax.set_xlabel('time (s)', fontsize=12, family=SERIF, labelpad=8)
    ax.set_ylabel('LWC (1 m$^{-3}$)', fontsize=12, family=SERIF, labelpad=4)
    return ax


def legend_box(rect_px, labels, colors, styles, widths, first, step, x0, x1, xt):
    x_a, y_a, x_b, y_b = rect_px
    lg = fig.add_axes(frac(x_a, y_a, x_b, y_b))
    lg.set_xlim(0, 1)
    lg.set_ylim(0, 1)
    lg.set_xticks([])
    lg.set_yticks([])
    hpx = y_b - y_a
    for i, lab in enumerate(labels):
        y = 1 - (first + i * step) / hpx
        lg.plot([x0, x1], [y, y], color=colors[i], ls=styles[i], lw=widths[i])
        lg.text(xt, y, lab, family=SERIF, fontsize=9.5, va='center', ha='left', clip_on=True)
    for s in lg.spines.values():
        s.set_color('#404040')
        s.set_linewidth(1.0)
    lg.spines['top'].set_color('#909090')
    lg.spines['top'].set_linewidth(2)
    return lg


# --- top row
radius_panel(frac(74.0, 36.7, 556.8, 381.7), rad1, 1420, range(0, 1401, 200))
w1 = [1.2] * 27
lwc_panel(frac(636.2, 35.7, 1118.8, 377.7), lwc1 + [lwc1_total], w1 + [2.6],
          1425, range(0, 1401, 200), -2)
lab1 = [str(i) for i in range(1, 28)] + ['total']
legend_box((1130, 35, 1215, 435), lab1, lwc_colors[:27] + ['#000000'], lwc_styles[:27] + [SOLID],
           [1.2] * 27 + [2.6], 11, 14.15, 0.05, 0.56, 0.69)

# --- middle row
radius_panel(frac(75.1, 494, 557.9, 841.7), rad2, 1289, range(0, 1201, 200))
w2 = [1.8] * 27 + [2.4]
lwc_panel(frac(637, 497.3, 1120.9, 832.3), lwc2 + [lwc2_total], w2 + [2.2],
          1289, range(0, 1201, 200), -2)
lab2 = [str(i) for i in range(1, 29)] + ['total']
legend_box((1126.3, 490.7, 1222, 888.3), lab2, lwc_colors[:28] + ['#008b8b'], lwc_styles[:28] + [SOLID],
           w2 + [2.2], 12, 13.37, 0.044, 0.58, 0.69)

# --- bottom row
rad3 = list(rad3_small)
for k, vals in enumerate(rad3_rise):
    pts = list(zip(rad3_times, vals))
    pts += [(rad3_fall_start[k], rad3_peak[k]), (rad3_fall_end[k], rad3_after[k]),
            (720, rad3_t720[k]), (800, rad3_t800[k]), (934, rad3_end[k])]
    rad3.append(pts)
radius_panel(frac(75.1, 954, 557.5, 1303.3), rad3, 934, range(0, 801, 200))
w3 = [1.8] * 27 + [2.4, 2.4]
lwc_panel(frac(634.9, 955, 1114.6, 1297.7), lwc3, w3, 933, range(0, 801, 200), -3)
lab3 = [str(i) for i in range(1, 30)]
legend_box((1120, 955, 1214, 1352), lab3, lwc_colors, lwc_styles, w3, 12.3, 13.68, 0.053, 0.58, 0.70)

# outer frame
for xs, ys in [((7, 7), (4, H)), ((7, 1224), (4, 4)), ((1224, 1224), (4, 498))]:
    fig.add_artist(Line2D([x / W for x in xs], [1 - y / H for y in ys], color='black', lw=2,
                          transform=fig.transFigure))

fig.savefig('out.png', dpi=100)
